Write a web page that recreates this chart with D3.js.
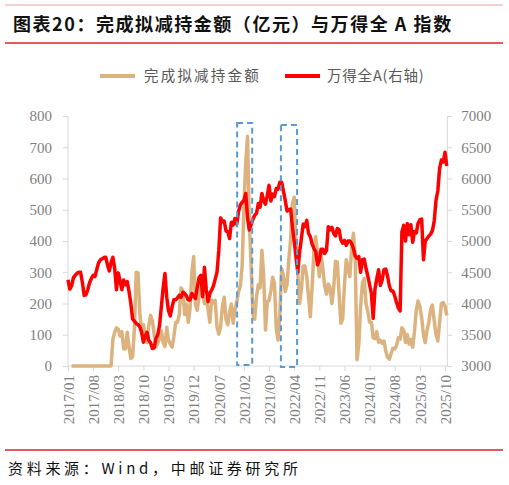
<!DOCTYPE html>
<html><head><meta charset="utf-8">
<script src="https://cdn.jsdelivr.net/npm/d3@7"></script>
<style>body{margin:0;background:#fff} svg{display:block}</style>
</head><body>
<svg id="c" width="509" height="485"></svg>
<script>
// x tick labels (every 7 months from 2017/01)
const tickLabels = ["2017/01","2017/08","2018/03","2018/10","2019/05","2019/12","2020/07","2021/02","2021/09","2022/04","2022/11","2023/06","2024/01","2024/08","2025/03","2025/10"];
const tickMonths = [0,7,14,21,28,35,42,49,56,63,70,77,84,91,98,105];
const leftTicks = [0,100,200,300,400,500,600,700,800];
const rightTicks = [3000,3500,4000,4500,5000,5500,6000,6500,7000];
// semi-monthly observations starting 2017-01 (index k -> month k/2)
const amountValues = [
null,null,0,0,0,0,0,0,0,0,
0,0,0,0,0,0,0,0,0,0,
0,0,0,0,0,85,108,122,118,96,
110,55,55,108,62,24,30,120,300,298,
170,110,133,94,75,130,162,145,100,62,
72,88,112,75,62,124,82,70,60,95,
140,140,165,250,240,165,198,140,185,300,
350,196,178,225,255,228,200,215,182,140,
211,203,210,125,102,125,190,220,150,132,
172,198,137,180,205,238,257,320,510,650,
735,460,320,165,150,222,260,250,370,290,
115,205,210,240,284,265,120,83,165,312,
290,238,260,340,405,520,540,393,300,200,
245,320,320,285,220,158,255,370,414,355,
286,357,310,255,230,262,250,200,250,335,
333,230,137,150,260,340,310,286,375,425,
340,20,70,190,265,280,200,175,140,140,
90,88,110,76,82,73,80,48,28,22,
40,57,55,65,90,86,122,115,75,100,
70,85,60,110,180,208,190,155,100,75,
115,140,182,195,145,100,80,140,200,203,
192,162];
const windAValues = [
4380,4230,4280,4410,4450,4483,4500,4500,4340,4130,
4140,4220,4330,4400,4450,4430,4540,4650,4696,4715,
4735,4740,4620,4520,4660,4740,4560,4220,4490,4360,
4220,4376,4300,4350,4190,4000,3750,3720,3680,3660,
3630,3540,3380,3469,3540,3410,3370,3280,3290,3440,
3500,3650,3950,4250,4480,4100,3880,3800,3950,4060,
4060,4090,4130,4100,4180,4160,4120,4056,4056,4160,
4120,4080,4260,4410,4450,4110,4580,4230,4030,4160,
4216,4280,4390,4500,4850,5370,5310,5320,5160,5150,
5040,5300,5256,5360,5270,5470,5580,5620,5650,5760,
5370,5176,5260,5350,5410,5443,5600,5540,5760,5650,
5590,5730,5890,5640,5750,5709,5840,5830,5940,5940,
5800,5650,5480,5500,5510,5230,4990,4749,4500,4820,
5040,5270,5229,5330,5120,5069,4950,4880,4830,4620,
4690,4870,4870,4800,4850,5229,5180,5220,5120,5080,
5200,5180,5016,4965,5010,4930,5000,5000,4960,4880,
4760,4720,4749,4500,4700,4710,4560,4440,4300,4160,
3763,4230,4400,4540,4290,4376,4540,4550,4440,4280,
4200,4200,4120,4020,3930,3880,5150,5250,5000,5280,
5100,5260,4980,5150,5130,5283,5340,5350,4700,5000,
5040,5080,5110,5170,5320,5656,5800,6163,6296,6260,
6420,6200];
// highlighted periods (month index range, left-axis value range)
const highlightBoxes = [
  {from: 47.1, to: 51.3, top: 778, bottom: 3},
  {from: 59.3, to: 63.8, top: 771, bottom: -3}
];
const seriesNames = ["完成拟减持金额","万得全A(右轴)"];
const colors = {amount: "#dcb37e", windA: "#ff0000"};

const svg = d3.select("#c");
const x = d3.scaleLinear().domain([0,105]).range([68,445]);
const yL = d3.scaleLinear().domain([0,800]).range([366,116]);
const yR = d3.scaleLinear().domain([3000,7000]).range([366,116]);
const xEnd = x(105.65);
const axisColor = "#d9d9d9";
const labelColor = "#7f7f7f";
const serif = "'Liberation Serif','Times New Roman',serif";
const cjk = "'Noto Sans CJK SC','Noto Sans',sans-serif";

// title block
svg.append("line").attr("x1",5).attr("x2",503).attr("y1",5).attr("y2",5).attr("stroke","#e9a3a3").attr("stroke-width",1);
svg.append("line").attr("x1",5).attr("x2",503).attr("y1",43).attr("y2",43).attr("stroke","#d9262a").attr("stroke-width",1.3);
svg.append("text").attr("x",13).attr("y",31).attr("font-family",cjk).attr("font-weight","bold")
  .attr("font-size",18).attr("letter-spacing",1.55).attr("fill","#111").text("图表20：完成拟减持金额（亿元）与万得全 A 指数");

// source
svg.append("line").attr("x1",5).attr("x2",503).attr("y1",450).attr("y2",450).attr("stroke","#d9262a").attr("stroke-width",1.3);
svg.append("text").attr("x",8).attr("y",474).attr("font-family",cjk).attr("font-size",15).attr("letter-spacing",3.7)
  .attr("fill","#111").text("资料来源：Wind，中邮证券研究所");

// legend
const lg = svg.append("g");
lg.append("line").attr("x1",100).attr("x2",135).attr("y1",76).attr("y2",76).attr("stroke",colors.amount).attr("stroke-width",4);
lg.append("text").attr("x",144).attr("y",81).attr("font-family",cjk).attr("font-size",14.5).attr("letter-spacing",2.2).attr("fill","#595959").text(seriesNames[0]);
lg.append("line").attr("x1",285).attr("x2",320).attr("y1",76).attr("y2",76).attr("stroke",colors.windA).attr("stroke-width",4);
lg.append("text").attr("x",327).attr("y",81).attr("font-family",cjk).attr("font-size",14.5).attr("letter-spacing",0.8).attr("fill","#595959").text(seriesNames[1]);

// axes
function styleAxis(g){
  g.select(".domain").remove();
  g.selectAll(".tick line").attr("stroke",axisColor);
  g.selectAll(".tick text").attr("fill",labelColor).attr("font-family",serif).attr("font-size",15);
}
svg.append("g").attr("transform","translate(68,0)")
  .call(d3.axisLeft(yL).tickValues(leftTicks).tickSize(5).tickPadding(11).tickFormat(d3.format("d")))
  .call(styleAxis);
svg.append("g").attr("transform",`translate(${xEnd},0)`)
  .call(d3.axisRight(yR).tickValues(rightTicks).tickSize(5).tickPadding(9).tickFormat(d3.format("d")))
  .call(styleAxis);
const xg = svg.append("g").attr("transform","translate(0,366)")
  .call(d3.axisBottom(x).tickValues(tickMonths).tickSize(5).tickFormat((d,i)=>tickLabels[i]))
  .call(styleAxis);
xg.selectAll(".tick text").attr("transform","rotate(-90)").attr("x",-9).attr("y",0).attr("dy","0.35em").style("text-anchor","end");

svg.append("line").attr("x1",68).attr("x2",68).attr("y1",116).attr("y2",366).attr("stroke",axisColor);
svg.append("line").attr("x1",xEnd).attr("x2",xEnd).attr("y1",116).attr("y2",366).attr("stroke",axisColor);
svg.append("line").attr("x1",68).attr("x2",xEnd).attr("y1",366).attr("y2",366).attr("stroke",axisColor);

// series
const amountLine = d3.line().defined(d=>d!=null).x((d,i)=>x(i/2)).y(d=>yL(d));
const windLine = d3.line().x((d,i)=>x(i/2)).y(d=>yR(d));
svg.append("path").datum(amountValues).attr("d",amountLine).attr("fill","none")
  .attr("stroke",colors.amount).attr("stroke-width",3.5).attr("stroke-linejoin","round");
svg.append("path").datum(windAValues).attr("d",windLine).attr("fill","none")
  .attr("stroke",colors.windA).attr("stroke-width",3.5).attr("stroke-linejoin","round");

// highlight boxes
svg.selectAll("rect.hl").data(highlightBoxes).enter().append("rect").attr("class","hl")
  .attr("x",d=>x(d.from)).attr("width",d=>x(d.to)-x(d.from))
  .attr("y",d=>yL(d.top)).attr("height",d=>yL(d.bottom)-yL(d.top))
  .attr("fill","none").attr("stroke","#5b9bd5").attr("stroke-width",2).attr("stroke-dasharray","6,4");
</script>
</body></html>
